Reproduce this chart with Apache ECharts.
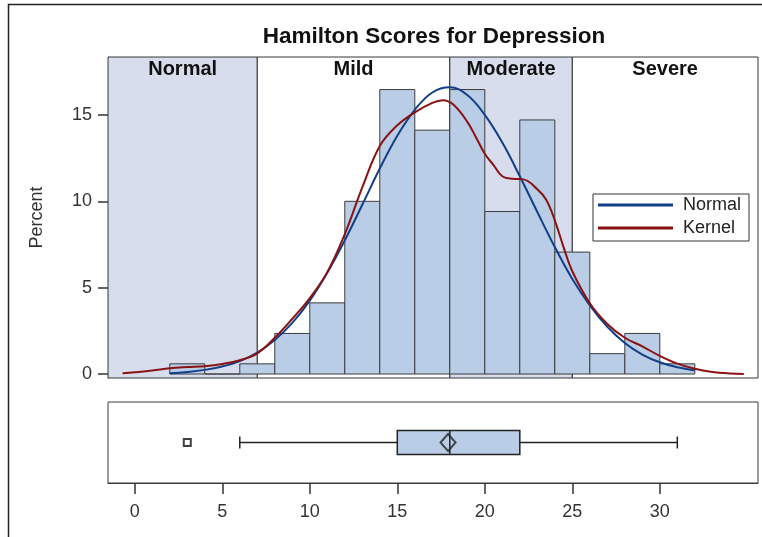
<!DOCTYPE html>
<html>
<head>
<meta charset="utf-8">
<script src="https://cdn.jsdelivr.net/npm/echarts@6/dist/echarts.min.js"></script>
<style>
html, body { margin: 0; padding: 0; background: #fff; }
#chart { width: 762px; height: 537px; }
</style>
</head>
<body>
<div id="chart"></div>
<script>
// histogram: bin edges (score) and percent of patients per bin
const binEdges = [2, 4, 6, 8, 10, 12, 14, 16, 18, 20, 22, 24, 26, 28, 30, 32];
const binPercent = [0.59, 0, 0.59, 2.35, 4.12, 10.0, 16.47, 14.12, 16.47, 9.41, 14.71, 7.06, 1.18, 2.35, 0.59];

// fitted normal curve
const normalCurve = [
    [2, 0.05], [3, 0.12], [4, 0.24], [5, 0.44], [6, 0.75], [7, 1.24], [8, 1.97], [9, 2.96],
    [10, 4.25], [11, 5.86], [12, 7.74], [13, 9.8], [14, 11.9], [15, 13.8], [16, 15.3], [17, 16.3],
    [18, 16.6], [19, 16.15], [20, 15.0], [21, 13.4], [22, 11.45], [23, 9.38], [24, 7.35], [25, 5.5],
    [26, 3.98], [27, 2.74], [28, 1.8], [29, 1.13], [30, 0.68], [31, 0.39], [32, 0.21]
];

// kernel density curve
const kernelCurve = [
    [-0.7, 0.04], [0, 0.1], [1, 0.2], [2, 0.33], [3, 0.4], [4, 0.45], [5, 0.58], [6, 0.8],
    [7, 1.2], [8, 2.1], [9, 3.2], [10, 4.4], [11, 5.9], [12, 8.1], [13, 10.8], [14, 13.2],
    [15, 14.4], [16, 15.15], [17, 15.7], [17.6, 15.85], [18.2, 15.6], [19, 14.6], [19.5, 13.7],
    [20, 12.75], [20.5, 12.1], [21, 11.45], [21.6, 11.3], [22.2, 11.27], [23, 10.7], [23.5, 10.1],
    [24, 8.9], [24.5, 7.35], [25, 5.95], [26, 4.1], [27, 2.9], [28, 2.1], [29, 1.6], [30, 1.05],
    [31, 0.6], [32, 0.3], [33, 0.12], [34, 0.03], [34.8, 0.0]
];

// severity bands (Hamilton cut points)
const bandNames = ['Normal', 'Mild', 'Moderate', 'Severe'];
const bandCuts = [7, 18, 25];
const bandShaded = [true, false, true, false];

// box plot: min whisker, Q1, median, Q3, max whisker
const boxStats = [6, 15, 18, 22, 31];
const meanScore = 17.9;
const outliers = [3];

const xTicks = [0, 5, 10, 15, 20, 25, 30];
const yTicks = [0, 5, 10, 15];
const xMin = -1.53, xMax = 35.61;
const yMin = -0.23, yMax = 18.355;

const FONT = 'Liberation Sans, Arial, sans-serif';
const BAR_FILL = '#b9cde6';
const BAND_FILL = '#d7ddec';
const AXIS_COLOR = '#3a3a3a';

let edges = [xMin].concat(bandCuts).concat([xMax]);
let bandData = bandNames.map((n, i) => [edges[i], edges[i + 1], i]);
let histData = binPercent.map((p, i) => [binEdges[i], binEdges[i + 1], p]);

function renderBand(params, api) {
    let cs = params.coordSys;
    let x0 = api.coord([api.value(0), 0])[0];
    let x1 = api.coord([api.value(1), 0])[0];
    let i = api.value(2);
    return {
        type: 'group',
        children: [
            {
                type: 'rect',
                shape: { x: x0, y: cs.y, width: x1 - x0, height: cs.height },
                style: { fill: bandShaded[i] ? BAND_FILL : '#fff', stroke: '#333', lineWidth: 1 }
            },
            {
                type: 'text',
                x: (x0 + x1) / 2,
                y: cs.y + 12.5,
                style: {
                    text: bandNames[i], textAlign: 'center', textVerticalAlign: 'middle',
                    font: 'bold 20px ' + FONT, fill: '#111'
                }
            }
        ]
    };
}

function renderBin(params, api) {
    let p0 = api.coord([api.value(0), api.value(2)]);
    let p1 = api.coord([api.value(1), 0]);
    return {
        type: 'rect',
        shape: { x: p0[0], y: p0[1], width: p1[0] - p0[0], height: p1[1] - p0[1] },
        style: { fill: BAR_FILL, stroke: '#3c3c3c', lineWidth: 1 }
    };
}

function renderBox(params, api) {
    let c = (v) => api.coord([v, 0]);
    let y = c(api.value(2))[1];
    let lo = c(api.value(0))[0], q1 = c(api.value(1))[0], med = c(api.value(2))[0];
    let q3 = c(api.value(3))[0], hi = c(api.value(4))[0];
    let h = 12, cap = 6;
    let line = { stroke: '#222', lineWidth: 1.5 };
    return {
        type: 'group',
        children: [
            { type: 'line', shape: { x1: lo, y1: y, x2: q1, y2: y }, style: line },
            { type: 'line', shape: { x1: q3, y1: y, x2: hi, y2: y }, style: line },
            { type: 'line', shape: { x1: lo, y1: y - cap, x2: lo, y2: y + cap }, style: line },
            { type: 'line', shape: { x1: hi, y1: y - cap, x2: hi, y2: y + cap }, style: line },
            {
                type: 'rect', shape: { x: q1, y: y - h, width: q3 - q1, height: 2 * h },
                style: { fill: BAR_FILL, stroke: '#222', lineWidth: 1.5 }
            },
            { type: 'line', shape: { x1: med, y1: y - h, x2: med, y2: y + h }, style: { stroke: '#222', lineWidth: 1.5 } }
        ]
    };
}

let chart = echarts.init(document.getElementById('chart'));
let option = {
    animation: false,
    textStyle: { fontFamily: FONT },
    graphic: [
        {
            type: 'rect', silent: true,
            shape: { x: 8.5, y: 4.5, width: 800, height: 600 },
            style: { fill: 'none', stroke: '#222', lineWidth: 1.5 }
        },
        {
            type: 'text', x: 434, y: 37,
            style: {
                text: 'Hamilton Scores for Depression', textAlign: 'center', textVerticalAlign: 'middle',
                font: 'bold 22.5px ' + FONT, fill: '#111'
            }
        }
    ],
    grid: [
        { left: 108, right: 4, top: 57, height: 321, show: true, borderColor: AXIS_COLOR, borderWidth: 1 },
        { left: 108, right: 4, top: 402, height: 81, show: true, borderColor: AXIS_COLOR, borderWidth: 1 }
    ],
    legend: {
        orient: 'vertical', left: 593, top: 194,
        data: ['Normal', 'Kernel'],
        icon: 'rect',
        itemWidth: 75, itemHeight: 3, itemGap: 3,
        padding: [1, 8, 3, 5],
        borderColor: '#333', borderWidth: 1, backgroundColor: '#fff',
        textStyle: { fontSize: 18, color: '#222', lineHeight: 20, padding: [0, 0, 0, 5] }
    },
    xAxis: [
        { gridIndex: 0, type: 'value', min: xMin, max: xMax, show: false },
        {
            gridIndex: 1, type: 'value', min: xMin, max: xMax,
            axisLine: { show: true, onZero: false, lineStyle: { color: AXIS_COLOR } },
            splitLine: { show: false },
            axisTick: { show: true, length: 11, customValues: xTicks, lineStyle: { color: '#333', width: 1.5 } },
            axisLabel: { customValues: xTicks, fontSize: 18, color: '#333', margin: 20 }
        }
    ],
    yAxis: [
        {
            gridIndex: 0, type: 'value', min: yMin, max: yMax,
            name: 'Percent', nameLocation: 'middle', nameGap: 62, nameRotate: 90,
            nameTextStyle: { fontSize: 18, color: '#333' },
            axisLine: { show: true, onZero: false, lineStyle: { color: AXIS_COLOR } },
            splitLine: { show: false },
            axisTick: { show: true, length: 10, customValues: yTicks, lineStyle: { color: '#333', width: 1.5 } },
            axisLabel: { customValues: yTicks, fontSize: 18, color: '#333', margin: 16 }
        },
        { gridIndex: 1, type: 'value', min: -1, max: 1, show: false }
    ],
    series: [
        {
            name: 'bands', type: 'custom', xAxisIndex: 0, yAxisIndex: 0, z: 1,
            renderItem: renderBand, data: bandData, clip: true, silent: true
        },
        {
            name: 'hist', type: 'custom', xAxisIndex: 0, yAxisIndex: 0, z: 2,
            renderItem: renderBin, data: histData, silent: true
        },
        {
            name: 'Normal', type: 'line', xAxisIndex: 0, yAxisIndex: 0, z: 3,
            data: normalCurve, symbol: 'none', smooth: 0.4,
            color: '#123f87', lineStyle: { color: '#123f87', width: 2 }
        },
        {
            name: 'Kernel', type: 'line', xAxisIndex: 0, yAxisIndex: 0, z: 3,
            data: kernelCurve, symbol: 'none', smooth: 0.4,
            color: '#8a1212', lineStyle: { color: '#8a1212', width: 2 }
        },
        {
            name: 'box', type: 'custom', xAxisIndex: 1, yAxisIndex: 1, z: 2,
            renderItem: renderBox, data: [boxStats], silent: true
        },
        {
            name: 'mean', type: 'scatter', xAxisIndex: 1, yAxisIndex: 1, z: 4,
            data: [[meanScore, 0]], symbol: 'diamond', symbolSize: [15, 17],
            itemStyle: { color: 'rgba(0,0,0,0)', borderColor: '#222', borderWidth: 2 }, silent: true
        },
        {
            name: 'outlier', type: 'scatter', xAxisIndex: 1, yAxisIndex: 1, z: 4,
            data: outliers.map(v => [v, 0]), symbol: 'rect', symbolSize: 7,
            itemStyle: { color: '#fff', borderColor: '#111', borderWidth: 2 }, silent: true
        }
    ]
};
chart.setOption(option);
</script>
</body>
</html>
